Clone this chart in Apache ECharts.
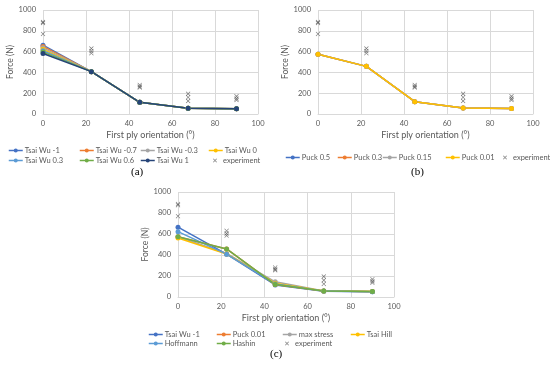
<!DOCTYPE html>
<html><head><meta charset="utf-8">
<script src="https://cdn.jsdelivr.net/npm/echarts@6/dist/echarts.min.js"></script>
<style>html,body{margin:0;padding:0;background:#fff}#c{width:550px;height:365px}</style>
</head><body><div id="c"></div>
<script>
// ---- data ----
const angles = [0, 22.5, 45, 67.5, 90];
const xTicks = [0, 20, 40, 60, 80, 100];
const yTicks = [0, 200, 400, 600, 800, 1000];

const expAngles = [0, 0, 0, 22.5, 22.5, 22.5, 45, 45, 45, 67.5, 67.5, 67.5, 90, 90, 90];
const expForce  = [885, 875, 770, 630, 605, 585, 280, 265, 255, 195, 160, 125, 170, 150, 135];

// (a) Tsai Wu
const tsaiWuNames = ['Tsai Wu -1', 'Tsai Wu -0.7', 'Tsai Wu -0.3', 'Tsai Wu 0', 'Tsai Wu 0.3', 'Tsai Wu 0.6', 'Tsai Wu 1'];
const tsaiWuM1  = [662, 407, 112, 55, 50];
const tsaiWuM07 = [650, 407, 112, 55, 50];
const tsaiWuM03 = [636, 407, 112, 55, 50];
const tsaiWu0   = [622, 407, 112, 55, 50];
const tsaiWuP03 = [608, 407, 112, 55, 50];
const tsaiWuP06 = [595, 407, 112, 55, 50];
const tsaiWuP1  = [582, 407, 112, 55, 50];

// (b) Puck
const puckNames = ['Puck 0.5', 'Puck 0.3', 'Puck 0.15', 'Puck 0.01'];
const puck05  = [574, 458, 118, 58, 53];
const puck03  = [574, 458, 118, 58, 53];
const puck015 = [574, 458, 118, 58, 53];
const puck001 = [574, 458, 118, 58, 53];

// (c) comparison
const compNames = ['Tsai Wu -1', 'Puck 0.01', 'max stress', 'Tsai Hill', 'Hoffmann', 'Hashin'];
const cTsaiWu   = [665, 408, 115, 55, 50];
const cPuck     = [574, 458, 118, 58, 53];
const cMaxStr   = [574, 415, 145, 58, 53];
const cTsaiHill = [562, 410, 132, 57, 52];
const cHoffmann = [622, 408, 125, 56, 51];
const cHashin   = [574, 458, 118, 58, 53];

// ---- styling ----
const FONT = 'Lato';
const C = {blue:'#4472C4', orange:'#ED7D31', gray:'#A5A5A5', yellow:'#FFC000', lblue:'#5B9BD5', green:'#70AD47', navy:'#264478'};
const tsaiWuColors = [C.blue, C.orange, C.gray, C.yellow, C.lblue, C.green, C.navy];
const puckColors = [C.blue, C.orange, C.gray, C.yellow];
const compColors = [C.blue, C.orange, C.gray, C.yellow, C.lblue, C.green];
const XSYM = 'path://M0,1 L1,0 L5,4 L9,0 L10,1 L6,5 L10,9 L9,10 L5,6 L1,10 L0,9 L4,5 Z';

const grids = [
  {left: 43, top: 10, width: 215, height: 104},
  {left: 318, top: 10, width: 215, height: 104},
  {left: 178, top: 192, width: 216, height: 105}
];

const xAxes = grids.map((g, i) => ({
  gridIndex: i, type: 'value', min: xTicks[0], max: xTicks[xTicks.length-1], interval: xTicks[1]-xTicks[0],
  name: 'First ply orientation (°)', nameLocation: 'middle', nameGap: 17,
  nameTextStyle: {fontFamily: FONT, fontSize: 9, color: '#595959'},
  axisLine: {show: true, lineStyle: {color: '#d9d9d9'}}, axisTick: {show: false},
  axisLabel: {fontFamily: FONT, fontSize: 7.5, color: '#595959', margin: 6, formatter: v => String(v)},
  splitLine: {show: true, lineStyle: {color: '#d9d9d9', width: 1}}
}));
const yAxes = grids.map((g, i) => ({
  gridIndex: i, type: 'value', min: yTicks[0], max: yTicks[yTicks.length-1], interval: yTicks[1]-yTicks[0],
  name: 'Force (N)', nameLocation: 'middle', nameGap: 24, nameRotate: 90,
  nameTextStyle: {fontFamily: FONT, fontSize: 8.5, color: '#595959'},
  axisLine: {show: false}, axisTick: {show: false},
  axisLabel: {fontFamily: FONT, fontSize: 7.5, color: '#595959', margin: 7, formatter: v => String(v)},
  splitLine: {show: true, lineStyle: {color: '#d9d9d9', width: 1}}
}));

function lineSeries(name, vals, color, gi) {
  return {
    name: name, type: 'line', xAxisIndex: gi, yAxisIndex: gi,
    data: angles.map((a, k) => [a, vals[k]]),
    symbol: 'circle', symbolSize: 5, color: color,
    lineStyle: {width: 1.5, color: color}, itemStyle: {color: color},
    animation: false
  };
}
function expSeries(gi) {
  return {
    name: 'experiment', type: 'scatter', xAxisIndex: gi, yAxisIndex: gi,
    data: expAngles.map((a, k) => [a, expForce[k]]),
    symbol: XSYM, symbolSize: 4.5, color: '#505050', itemStyle: {color: '#505050'},
    animation: false, z: 5
  };
}

const series = [];
const tsaiWuData = [tsaiWuM1, tsaiWuM07, tsaiWuM03, tsaiWu0, tsaiWuP03, tsaiWuP06, tsaiWuP1];
tsaiWuNames.forEach((n, i) => series.push(lineSeries(n, tsaiWuData[i], tsaiWuColors[i], 0)));
series.push(expSeries(0));
const puckData = [puck05, puck03, puck015, puck001];
puckNames.forEach((n, i) => series.push(lineSeries(n, puckData[i], puckColors[i], 1)));
series.push(expSeries(1));
const compData = [cTsaiWu, cPuck, cMaxStr, cTsaiHill, cHoffmann, cHashin];
compNames.forEach((n, i) => series.push(lineSeries(n, compData[i], compColors[i], 2)));
series.push(expSeries(2));

// ---- legends: one per item for column alignment ----
const legends = [];
function addLegend(name, color, left, rowY, isExp) {
  const item = {name: name};
  if (!isExp) {
    item.itemStyle = {color: color};
    item.lineStyle = {color: color, width: 1.5};
  } else {
    item.icon = XSYM;
    item.itemStyle = {color: '#505050'};
  }
  legends.push({
    data: [item], left: left, top: rowY - 2.5, padding: 0,
    itemWidth: isExp ? 4 : 14, itemHeight: isExp ? 4 : 5, selectedMode: false,
    textStyle: {fontFamily: FONT, fontSize: 7.5, color: '#595959', padding: isExp ? [0,0,0,1] : [0,0,0,-3]}
  });
}
// (a)
const aCols = [8, 79, 140, 208];
tsaiWuNames.forEach((n, i) => {
  const row = i < 4 ? 149 : 159;
  addLegend(n, tsaiWuColors[i], aCols[i % 4], row, false);
});
addLegend('experiment', null, 213, 159, true);
// (b)
const bCols = [285, 337, 382, 445];
puckNames.forEach((n, i) => addLegend(n, puckColors[i], bCols[i], 156, false));
addLegend('experiment', null, 503, 156, true);
// (c)
const cCols = [148, 216, 282, 350];
compNames.forEach((n, i) => {
  const row = i < 4 ? 333 : 342;
  addLegend(n, compColors[i], cCols[i % 4], row, false);
});
addLegend('experiment', null, 285, 342, true);

const chart = echarts.init(document.getElementById('c'), null, {renderer: 'canvas'});
chart.setOption({
  animation: false,
  backgroundColor: '#fff',
  grid: grids,
  xAxis: xAxes,
  yAxis: yAxes,
  legend: legends,
  series: series,
  graphic: [
    {type: 'text', left: 131, top: 167, style: {text: '(a)', font: '11px "Liberation Serif"', fill: '#000'}},
    {type: 'text', left: 411, top: 167, style: {text: '(b)', font: '11px "Liberation Serif"', fill: '#000'}},
    {type: 'text', left: 270, top: 349, style: {text: '(c)', font: '11px "Liberation Serif"', fill: '#000'}}
  ]
});
</script></body></html>
